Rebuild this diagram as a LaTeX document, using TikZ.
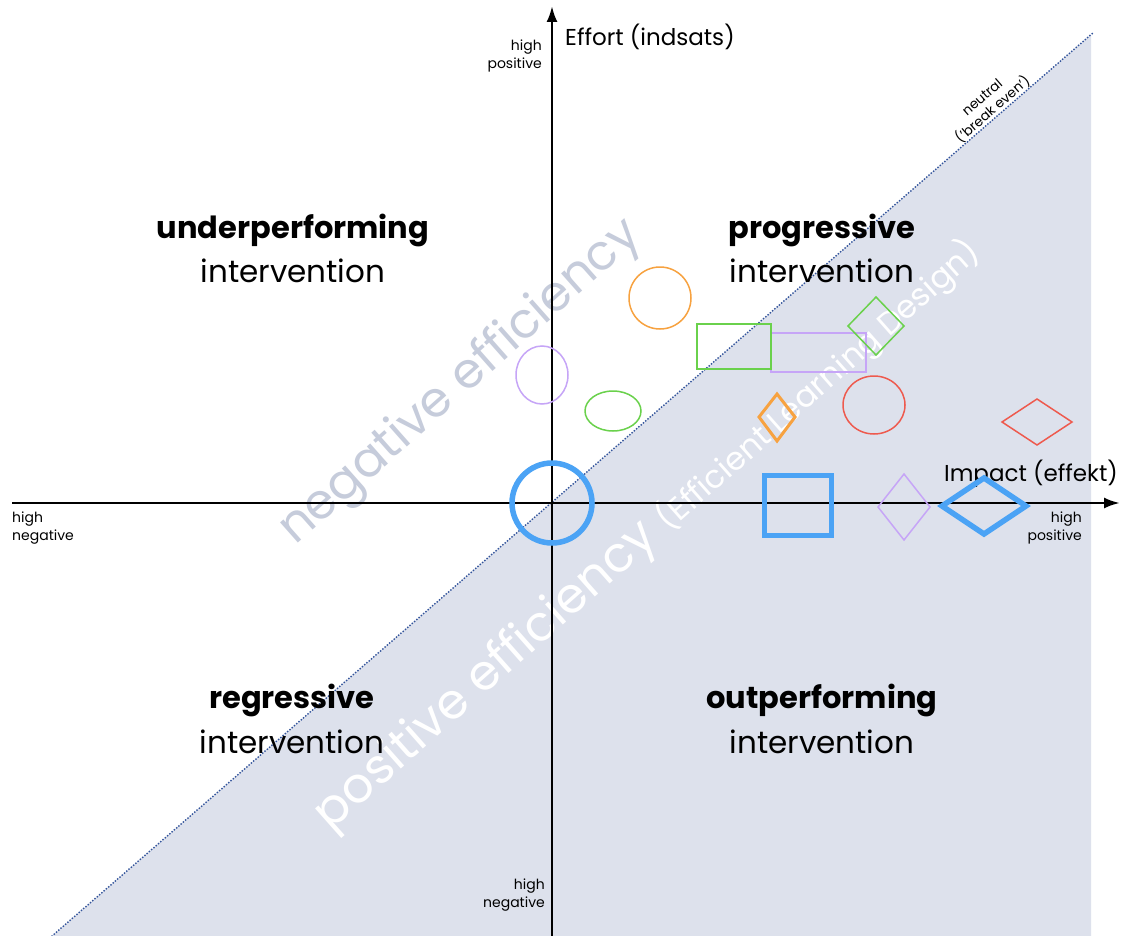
\documentclass[tikz,border=0pt]{standalone}
\usepackage{fontspec}
\setmainfont{Poppins}
\usetikzlibrary{arrows.meta}
\definecolor{shadebg}{HTML}{DDE1EC}
\definecolor{dotblue}{HTML}{34559C}
\definecolor{negtxt}{HTML}{C6CCDB}
\definecolor{cblue}{HTML}{4BA3F5}
\definecolor{corange}{HTML}{F7A240}
\definecolor{cgreen}{HTML}{6AD14C}
\definecolor{cpurple}{HTML}{C6A5F7}
\definecolor{cred}{HTML}{EE5A4E}
\begin{document}
\begin{tikzpicture}[x=1pt,y=-1pt,
  axis/.style={line width=2.6pt,black,-{Latex[length=16pt,width=11pt]}},
  small/.style={font=\fontsize{14}{18}\selectfont,inner sep=0pt},
  axtitle/.style={font=\fontsize{23}{28}\selectfont,inner sep=0pt},
  qhead/.style={font=\fontsize{30.5}{36}\selectfont\bfseries,inner sep=0pt},
  qsub/.style={font=\fontsize{31}{36}\selectfont,inner sep=0pt},
  bigrot/.style={font=\fontsize{49}{54}\selectfont,rotate=41.5,inner sep=0pt},
  thin/.style={line width=1.5pt},
  thick/.style={line width=5.5pt}]
\useasboundingbox (0,0) rectangle (1126,936);
\fill[white] (0,0) rectangle (1126,936);
\coordinate (dA) at (52,936);
\coordinate (dB) at (1094,32);
\fill[shadebg] (dA) -- (1091,34.6) -- (1091,936) -- cycle;
\draw[dotblue,line width=2pt,line cap=round,dash pattern=on 0pt off 3pt] (dA) -- (dB);
% rotated background texts
\node[bigrot,text=negtxt] (neg) at (461,383) {negative efficiency};
\node[bigrot,text=white] (pos) at (648,534) {positive efficiency {\fontsize{32}{36}\selectfont(Efficient Learning Design)}};
\node[font=\fontsize{13.5}{16}\selectfont,rotate=41,align=center,inner sep=0pt] (neutral) at (988,104) {neutral\\('break even')};
% axes
\coordinate (xL) at (12,503);
\coordinate (xR) at (1120,503);
\coordinate (yB) at (552,936);
\coordinate (yT) at (552,6);
\draw[axis] (xL) -- (xR);
\draw[axis] (yB) -- (yT);
% axis labels
\node[axtitle,anchor=west] (effort) at (565,37) {Effort (indsats)};
\node[axtitle,anchor=east] (impact) at (1118,474) {Impact (effekt)};
\node[small,align=right,anchor=east] (tp) at (542,56) {high\\positive};
\node[small,align=left,anchor=west] (ln) at (12,528) {high\\negative};
\node[small,align=right,anchor=east] (rp) at (1082,528) {high\\positive};
\node[small,align=right,anchor=east] (bn) at (545,895) {high\\negative};
% quadrant labels
\node[qhead] (uh) at (293,230) {underperforming};
\node[qsub] (us) at (293,271) {intervention};
\node[qhead] (ph) at (822,230) {progressive};
\node[qsub] (ps) at (822,271) {intervention};
\node[qhead] (rh) at (292,700) {regressive};
\node[qsub] (rs) at (292,742) {intervention};
\node[qhead] (oh) at (822,700) {outperforming};
\node[qsub] (os) at (822,742) {intervention};
% shapes
\draw[cblue,thick] (552,503) circle [radius=40];
\draw[corange,thin] (660,298) circle [radius=31];
\draw[cpurple,thin] (542,375) ellipse [x radius=26,y radius=29];
\draw[cgreen,thin] (613,411) ellipse [x radius=28,y radius=20];
\draw[cpurple,thin] (771,333) rectangle (866,372);
\draw[cgreen,thin] (697,324) rectangle (771,369);
\draw[cgreen,thin] (876,297) -- (904,326) -- (876,355) -- (848,326) -- cycle;
\draw[corange,line width=3pt,line join=miter] (777,394) -- (795,417) -- (777,441) -- (759,417) -- cycle;
\draw[cred,thin] (874,405) ellipse [x radius=31,y radius=29];
\draw[cred,thin] (1037,399) -- (1072,422) -- (1037,445) -- (1002,422) -- cycle;
\draw[cblue,line width=5pt] (764.5,475.5) rectangle (831.5,535.5);
\draw[cpurple,thin] (904,474) -- (930,507) -- (904,540) -- (878,507) -- cycle;
\draw[cblue,thick,line join=miter] (984,478) -- (1026,506) -- (984,534) -- (942,506) -- cycle;
\end{tikzpicture}
\end{document}
